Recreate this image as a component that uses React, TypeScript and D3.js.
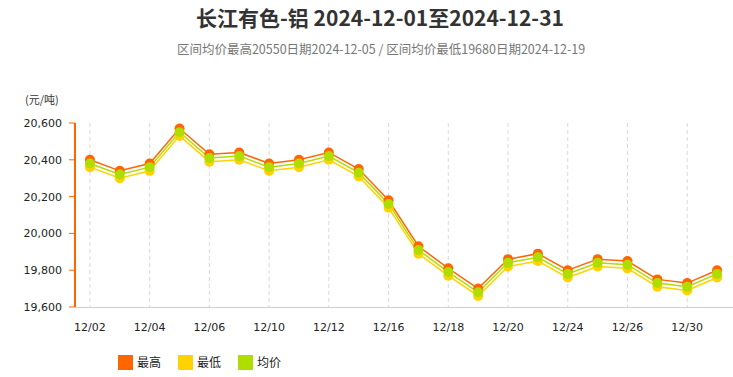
import React from "react";
import * as d3 from "d3";

const categories = ["12/02","12/03","12/04","12/05","12/06","12/09","12/10","12/11","12/12","12/13","12/16","12/17","12/18","12/19","12/20","12/23","12/24","12/25","12/26","12/27","12/30","12/31"];
const highValues = [20400,20340,20380,20570,20430,20440,20380,20400,20440,20350,20180,19930,19810,19700,19860,19890,19800,19860,19850,19750,19730,19800];
const lowValues = [20360,20300,20340,20530,20390,20400,20340,20360,20400,20310,20140,19890,19770,19660,19820,19850,19760,19820,19810,19710,19690,19760];
const avgValues = [20380,20320,20360,20550,20410,20420,20360,20380,20420,20330,20160,19910,19790,19680,19840,19870,19780,19840,19830,19730,19710,19780];
const yTicks = [19600,19800,20000,20200,20400,20600];
const title = "长江有色-铝 2024-12-01至2024-12-31";
const subtitle = "区间均价最高20550日期2024-12-05 / 区间均价最低19680日期2024-12-19";
const unitLabel = "(元/吨)";

const series = [
  { name: "最高", values: highValues, color: "#FF6600" },
  { name: "最低", values: lowValues, color: "#FFD200" },
  { name: "均价", values: avgValues, color: "#B0DD00" },
];

export default function App() {
  const W = 733, H = 377;
  const left = 75, right = 732, top = 123, bottom = 307;
  const x = d3.scalePoint<string>().domain(categories).range([left, right]).padding(0.5);
  const y = d3.scaleLinear().domain([19600, 20600]).range([bottom, top]);
  const line = (vals: number[]) =>
    d3.line<number>().x((_, i) => x(categories[i])!).y((v) => y(v))(vals) || "";
  const drawOrder = [series[0], series[1], series[2]];
  const cjk = "'Noto Sans CJK SC', 'Noto Sans', sans-serif";
  const num = "'DejaVu Sans', sans-serif";
  return (
    <svg width={W} height={H} style={{ position: "absolute", left: 0, top: 0 }}>
      <rect width={W} height={H} fill="#fff" />
      <text x={380} y={26} textAnchor="middle" fontFamily={cjk} fontWeight="bold" fontSize={21} fill="#333">{title}</text>
      <text x={381} y={54} textAnchor="middle" fontFamily={cjk} fontSize={12.5} fill="#777">{subtitle}</text>
      <text x={25} y={104} fontFamily={cjk} fontSize={11} fill="#333">{unitLabel}</text>
      {categories.map((c, i) => i % 2 === 0 ? (
        <line key={"g" + c} x1={x(c)} x2={x(c)} y1={top} y2={bottom} stroke="#d9d9d9" strokeDasharray="4,3" />
      ) : null)}
      <line x1={left} x2={W} y1={bottom + 0.5} y2={bottom + 0.5} stroke="#d0d0d0" strokeWidth={1} />
      {categories.map((c, i) => i % 2 === 0 ? (
        <text key={"t" + c} x={x(c)} y={331} textAnchor="middle" fontFamily={num} fontSize={11} fill="#222">{c}</text>
      ) : null)}
      <line x1={left} x2={left} y1={top} y2={bottom} stroke="#FF6600" strokeWidth={2} />
      {yTicks.map((t) => (
        <g key={"y" + t}>
          <line x1={left - 6} x2={left} y1={y(t)} y2={y(t)} stroke="#FF6600" strokeWidth={1} />
          <text x={62} y={y(t) + 4} textAnchor="end" fontFamily={num} fontSize={11} fill="#222">{d3.format(",")(t)}</text>
        </g>
      ))}
      {drawOrder.map((s) => (
        <path key={"l" + s.name} d={line(s.values)} fill="none" stroke={s.color} strokeWidth={1.5} />
      ))}
      {drawOrder.map((s) => (
        <g key={"m" + s.name}>
          {s.values.map((v, i) => (
            <circle key={i} cx={x(categories[i])} cy={y(v)} r={5} fill={s.color} />
          ))}
        </g>
      ))}
      {series.map((s, i) => {
        const lx = [118, 178, 238][i];
        return (
          <g key={"lg" + s.name}>
            <rect x={lx} y={355} width={15} height={15} fill={s.color} />
            <text x={lx + 19} y={367} fontFamily={cjk} fontSize={12} fill="#222">{s.name}</text>
          </g>
        );
      })}
    </svg>
  );
}
